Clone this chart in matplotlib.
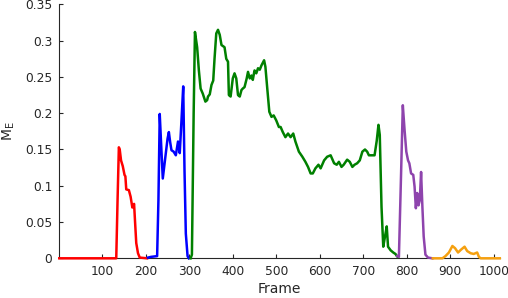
import matplotlib
matplotlib.use("Agg")
import matplotlib.pyplot as plt

# --- data (frame, M_E) ---
red_frames = [1, 132, 135, 138, 140, 143, 147, 151, 153, 155, 161, 165, 169, 173,
              175, 178, 182, 186, 203]
red_vals = [0, 0, 0.08, 0.153, 0.150, 0.135, 0.127, 0.115, 0.113, 0.095, 0.094,
            0.085, 0.070, 0.075, 0.053, 0.021, 0.007, 0.001, 0]

blue_frames = [205, 212, 226, 229, 232, 235, 239, 245, 250, 253, 256, 259, 264,
               269, 274, 278, 282, 286, 289, 292, 296, 299]
blue_vals = [0.001, 0.002, 0.003, 0.08, 0.199, 0.16, 0.110, 0.140, 0.165, 0.174,
             0.16, 0.149, 0.147, 0.142, 0.161, 0.145, 0.19, 0.237, 0.12, 0.034,
             0.003, 0]

green_frames = [303, 306, 310, 313, 318, 322, 326, 331, 337, 341, 343, 347, 351,
                355, 358, 362, 366, 370, 374, 381, 385, 389, 391, 395, 400, 404,
                408, 412, 416, 420, 423, 427, 432, 435, 439, 443, 446, 450, 454,
                458, 462, 466, 472, 475, 479, 484, 489, 494, 500, 506, 510, 515,
                521, 527, 533, 539, 544, 552, 560, 567, 573, 579, 584, 590, 597,
                602, 610, 617, 625, 633, 639, 644, 650, 655, 663, 669, 675, 680,
                686, 692, 698, 704, 709, 713, 720, 726, 731, 735, 738, 742, 746,
                750, 754, 757, 763, 769, 774, 779]
green_vals = [0, 0.005, 0.2, 0.312, 0.291, 0.259, 0.234, 0.227, 0.216, 0.218,
              0.223, 0.226, 0.239, 0.245, 0.275, 0.310, 0.315, 0.308, 0.294,
              0.291, 0.275, 0.271, 0.225, 0.223, 0.248, 0.255, 0.248, 0.225,
              0.223, 0.232, 0.234, 0.236, 0.248, 0.257, 0.248, 0.252, 0.246,
              0.259, 0.255, 0.262, 0.260, 0.266, 0.273, 0.264, 0.236, 0.202,
              0.195, 0.197, 0.190, 0.181, 0.181, 0.174, 0.167, 0.172, 0.167,
              0.172, 0.161, 0.147, 0.140, 0.133, 0.126, 0.117, 0.117, 0.124,
              0.129, 0.124, 0.135, 0.140, 0.142, 0.131, 0.129, 0.133, 0.126,
              0.129, 0.136, 0.133, 0.126, 0.129, 0.131, 0.135, 0.147, 0.150,
              0.147, 0.142, 0.142, 0.142, 0.162, 0.184, 0.170, 0.071, 0.016,
              0.030, 0.044, 0.016, 0.011, 0.008, 0.006, 0.002]

purple_frames = [778, 782, 787, 791, 795, 799, 803, 806, 810, 815, 818, 821, 824,
                 827, 830, 833, 836, 839, 843, 849, 859]
purple_vals = [0.003, 0.002, 0.117, 0.211, 0.177, 0.147, 0.135, 0.131, 0.117,
               0.115, 0.099, 0.069, 0.090, 0.073, 0.080, 0.119, 0.071, 0.030,
               0.005, 0.001, 0]

orange_frames = [860, 882, 889, 897, 905, 911, 918, 925, 933, 939, 947, 954, 962,
                 966, 970, 1014]
orange_vals = [0, 0, 0.003, 0.008, 0.017, 0.014, 0.008, 0.012, 0.016, 0.010,
               0.007, 0.006, 0.008, 0.002, 0, 0]

x_ticks = [100, 200, 300, 400, 500, 600, 700, 800, 900, 1000]
y_ticks = [0, 0.05, 0.1, 0.15, 0.2, 0.25, 0.3, 0.35]
y_ticklabels = ["0", "0.05", "0.1", "0.15", "0.2", "0.25", "0.3", "0.35"]

INK = "#262626"
segments = [
    (red_frames, red_vals, "#ff0000"),
    (blue_frames, blue_vals, "#0000ff"),
    (green_frames, green_vals, "#008000"),
    (purple_frames, purple_vals, "#8e44ad"),
    (orange_frames, orange_vals, "#f5a00f"),
]

fig = plt.figure(figsize=(5.08, 2.98), dpi=100)
ax = fig.add_axes([0.1167, 0.1332, 0.868, 0.852])

for xs, ys, c in segments:
    ax.plot(xs, ys, color=c, lw=1.8, solid_joinstyle="round",
            clip_on=False, zorder=3)

ax.set_xlim(1, 1015)
ax.set_ylim(0, 0.35)
ax.set_xticks(x_ticks)
ax.set_yticks(y_ticks)
ax.set_yticklabels(y_ticklabels)

for s in ("top", "right"):
    ax.spines[s].set_visible(False)
for s in ("left", "bottom"):
    ax.spines[s].set_color(INK)
    ax.spines[s].set_linewidth(0.8)

ax.tick_params(direction="in", length=3, width=0.8, colors=INK,
               labelsize=8.8)
ax.tick_params(axis="y", pad=5)
ax.tick_params(axis="x", pad=5)
ax.set_xlabel("Frame", fontsize=10, color=INK, labelpad=3)
ax.set_ylabel("M$_\\mathregular{E}$", fontsize=10, color=INK, labelpad=6)

fig.savefig("out.png", dpi=100)
